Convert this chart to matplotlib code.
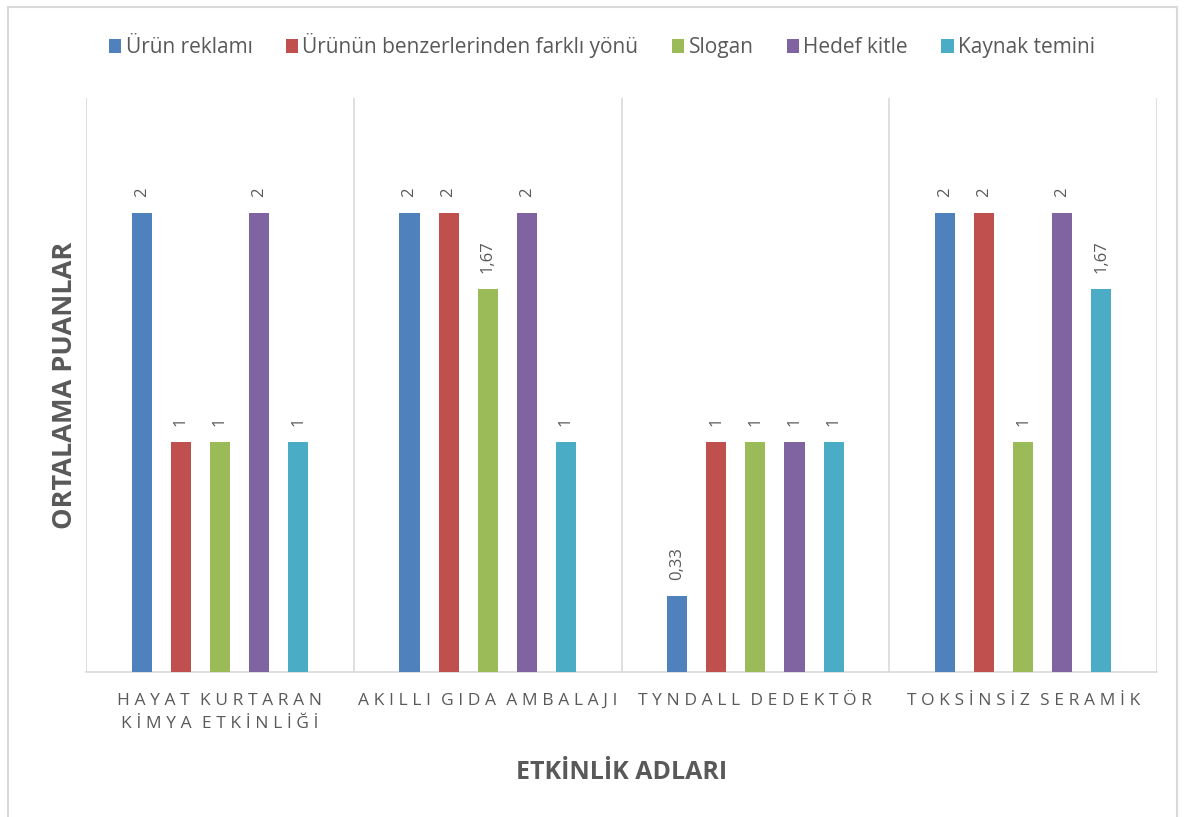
import matplotlib.pyplot as plt
import numpy as np
from matplotlib.patches import Rectangle

plt.rcParams['font.family'] = ['Open Sans', 'DejaVu Sans']

# veriler
etkinlikler = ['HAYAT KURTARAN\nKİMYA ETKİNLİĞİ', 'AKILLI GIDA AMBALAJI',
               'TYNDALL DEDEKTÖR', 'TOKSİNSİZ SERAMİK']
seriler = ['Ürün reklamı', 'Ürünün benzerlerinden farklı yönü', 'Slogan',
           'Hedef kitle', 'Kaynak temini']
urun_reklami = [2, 2, 0.33, 2]
farkli_yonu = [1, 2, 1, 2]
slogan = [1, 1.67, 1, 1]
hedef_kitle = [2, 2, 1, 2]
kaynak_temini = [1, 1, 1, 1.67]
degerler = [urun_reklami, farkli_yonu, slogan, hedef_kitle, kaynak_temini]
renkler = ['#4F81BD', '#C0504D', '#9BBB59', '#8064A2', '#4BACC6']

gri = '#595959'


def aralikli(metin):
    # harfler arasina ince bosluk koy
    satirlar = []
    for satir in metin.split('\n'):
        kelimeler = ['\u2009\u200a'.join(k) for k in satir.split(' ')]
        satirlar.append('\u2009 \u2009'.join(kelimeler))
    return '\n'.join(satirlar)


fig = plt.figure(figsize=(11.85, 8.17), dpi=100)
ax = fig.add_axes([0.0726, 0.1775, 0.9038, 0.7025])

x = np.arange(len(etkinlikler))
aralik = 0.146
genislik = 0.075
for i, (ad, vals, renk) in enumerate(zip(seriler, degerler, renkler)):
    pos = x + (i - 2) * aralik
    bars = ax.bar(pos, vals, width=genislik, color=renk, label=ad, zorder=3)
    for b, v in zip(bars, vals):
        etiket = ('%g' % v).replace('.', ',')
        ax.text(b.get_x() + b.get_width() / 2, v + 0.07, etiket, rotation=90,
                ha='center', va='bottom', fontsize=12, color=gri)

ax.set_xlim(-0.5, len(etkinlikler) - 0.5)
ax.set_ylim(0, 2.5)
for s in ['top', 'right', 'left']:
    ax.spines[s].set_visible(False)
ax.spines['bottom'].set_color('#D9D9D9')
ax.spines['bottom'].set_linewidth(1.2)
for xv in np.arange(-0.5, len(etkinlikler), 1.0):
    ax.axvline(xv, color='#D9D9D9', lw=1.2, zorder=1)
ax.set_yticks([])
ax.set_xticks(x)
ax.set_xticklabels([aralikli(e) for e in etkinlikler], fontsize=12.5,
                   color=gri, linespacing=1.6)
ax.tick_params(axis='x', length=0, pad=15)

ax.set_xlabel('ETKİNLİK ADLARI', fontsize=18, fontweight='bold', color=gri,
              labelpad=20)
ax.set_ylabel('ORTALAMA PUANLAR', fontsize=19.5, fontweight='bold', color=gri,
              labelpad=6)

fig.legend(loc='upper center', bbox_to_anchor=(0.508, 0.982), ncol=5,
           frameon=False, fontsize=15, handlelength=0.6, handleheight=0.6,
           handletextpad=0.2, columnspacing=1.6, labelcolor=gri)

# dis cerceve
fig.patches.append(Rectangle((8 / 1185, -0.05), 1169 / 1185, 1.05 - 7 / 817,
                             transform=fig.transFigure, fill=False,
                             edgecolor='#D9D9D9', lw=1.5))

fig.savefig('out.png', dpi=100)
